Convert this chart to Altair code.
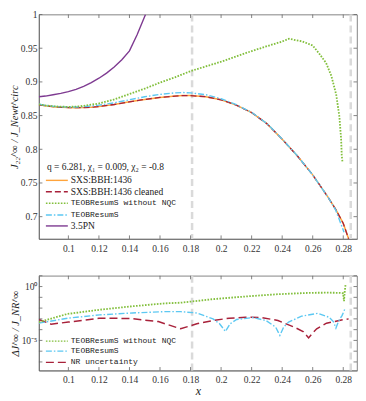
import altair as alt
import pandas as pd

# ---------------- data ----------------
# top panel: J22 / J_Newt^circ
x_sxs = [0.0807, 0.085, 0.09, 0.095, 0.10, 0.105, 0.11, 0.115, 0.12, 0.13, 0.14, 0.15, 0.16, 0.17,
         0.175, 0.18, 0.19, 0.20, 0.21, 0.22, 0.23, 0.24, 0.25, 0.26, 0.27, 0.275, 0.28, 0.2835]
y_sxs = [0.8660, 0.8645, 0.8632, 0.8624, 0.8619, 0.8617, 0.8619, 0.8625, 0.8635, 0.8665, 0.8705, 0.8740,
         0.8770, 0.8790, 0.8797, 0.8797, 0.8780, 0.8735, 0.8655, 0.8545, 0.8380, 0.8150, 0.7900, 0.7620,
         0.7290, 0.7110, 0.6900, 0.6672]
x_teob = [0.0807, 0.085, 0.09, 0.095, 0.10, 0.105, 0.11, 0.115, 0.12, 0.13, 0.14, 0.15, 0.16, 0.17,
          0.175, 0.18, 0.19, 0.20, 0.21, 0.22, 0.23, 0.24, 0.25, 0.26, 0.27, 0.275, 0.2805]
y_teob = [0.8670, 0.8652, 0.8638, 0.8630, 0.8627, 0.8628, 0.8633, 0.8642, 0.8655, 0.8690, 0.8735, 0.8780,
          0.8815, 0.8838, 0.8842, 0.8838, 0.8810, 0.8750, 0.8662, 0.8548, 0.8382, 0.8152, 0.7902, 0.7620,
          0.7290, 0.7100, 0.6770]
x_nonqc = [0.0807, 0.085, 0.09, 0.095, 0.10, 0.105, 0.11, 0.12, 0.13, 0.14, 0.15, 0.16, 0.17, 0.1744,
           0.18, 0.19, 0.20, 0.21, 0.22, 0.23, 0.24, 0.2445, 0.2533, 0.26, 0.2647, 0.2688, 0.2722, 0.2754,
           0.2775, 0.2786, 0.2790, 0.2795]
y_nonqc = [0.8665, 0.8650, 0.8638, 0.8632, 0.8630, 0.8633, 0.8645, 0.8680, 0.8740, 0.8820, 0.8900, 0.8990,
           0.9070, 0.9110, 0.9160, 0.9230, 0.9300, 0.9380, 0.9457, 0.9530, 0.9600, 0.9640, 0.9600, 0.9540,
           0.9407, 0.9280, 0.9090, 0.8810, 0.8480, 0.8150, 0.7910, 0.7810]
x_pn = [0.0807, 0.085, 0.09, 0.095, 0.10, 0.105, 0.11, 0.115, 0.12, 0.125, 0.13, 0.135, 0.14, 0.145, 0.1505]
y_pn = [0.8780, 0.8790, 0.8810, 0.8830, 0.8855, 0.8890, 0.8935, 0.8990, 0.9055, 0.9130, 0.9220, 0.9330,
        0.9460, 0.9700, 1.0000]

# bottom panel: log10 of relative difference
x_dnonqc = [0.0807, 0.0994, 0.1206, 0.1419, 0.1632, 0.1735, 0.1947, 0.216, 0.2372, 0.2584, 0.2700, 0.2776,
            0.2799, 0.2805, 0.2810, 0.2815]
l_dnonqc = [-3.30, -2.54, -2.15, -1.83, -1.56, -1.50, -1.17, -0.92, -0.71, -0.58, -0.57, -0.58,
            -0.62, -1.36, -0.40, 0.18]
x_dteob = [0.0807, 0.0994, 0.1206, 0.1419, 0.1632, 0.1735, 0.1841, 0.1947, 0.1990, 0.2028, 0.2060, 0.2102,
           0.2208, 0.2293, 0.2357, 0.2385, 0.2410, 0.2442, 0.2527, 0.2633, 0.2707, 0.2735, 0.2752, 0.2770,
           0.2792, 0.2813]
l_dteob = [-3.40, -2.94, -2.63, -2.45, -2.33, -2.33, -2.45, -3.00, -3.45, -4.16, -3.45, -3.06,
           -2.88, -3.15, -3.76, -4.53, -3.75, -3.30, -2.75, -2.48, -2.85, -3.25, -3.85, -3.20,
           -2.70, -2.00]
x_dnr = [0.0807, 0.0887, 0.1000, 0.1200, 0.1400, 0.1589, 0.1735, 0.1841, 0.1947, 0.2053, 0.2160, 0.2266,
         0.2372, 0.2478, 0.2540, 0.2573, 0.2600, 0.2626, 0.2690, 0.2796, 0.2835]
l_dnr = [-3.06, -3.49, -3.30, -2.94, -2.96, -3.25, -3.92, -3.46, -3.15, -2.94, -2.85, -2.88,
         -3.15, -3.76, -4.20, -4.77, -4.30, -3.92, -3.40, -3.09, -3.00]

v_lines = [0.181, 0.2849]
x_ticks = [0.10, 0.12, 0.14, 0.16, 0.18, 0.20, 0.22, 0.24, 0.26, 0.28]
y_ticks_top = [0.70, 0.75, 0.80, 0.85, 0.90, 0.95, 1.00]
y_ticks_bot = [1e-7, 1e-6, 1e-5, 1e-4, 1e-3, 1e-2, 1e-1, 1e0, 1e1]

legend_title = "q = 6.281, χ₁ = 0.009, χ₂ = -0.8"
top_labels = ["SXS:BBH:1436", "SXS:BBH:1436 cleaned", "TEOBResumS without NQC", "TEOBResumS", "3.5PN"]
bot_labels = ["TEOBResumS without NQC", "TEOBResumS", "NR uncertainty"]

# ---------------- styles ----------------
C_OR, C_RED, C_GRN, C_BLU, C_PUR = "#FFA43C", "#A8213A", "#82BF3C", "#5CC8F2", "#7E3A91"
D_RED, D_GRN, D_BLU = [6, 3], [1.6, 1.4], [6, 2, 1.5, 2]
SERIF, MONO = "Liberation Serif", "Liberation Mono"
W, H1, H2 = 319, 225, 95
XD = [0.0807, 0.289]
YD_TOP = [0.667, 1.0]
YD_BOT = [1.6e-8, 10]

x_axis_top = alt.Axis(values=x_ticks, format=".2~f", title=None, ticks=False, grid=False,
                      labelPadding=5)
x_axis_bot = alt.Axis(values=x_ticks, format=".2~f", title="x", ticks=False, grid=False,
                      labelPadding=4, titleFont=SERIF, titleFontStyle="italic", titleFontSize=12,
                      titleFontWeight="normal", titlePadding=2)
y_axis_top = alt.Axis(values=y_ticks_top, labelExpr="datum.value == 1 ? '1' : format(datum.value, '.2~f')",
                      title="J₂₂^∞ / J_Newt^circ", ticks=False, grid=False, labelPadding=2,
                      titlePadding=1, titleFontStyle="italic")
y_axis_bot = alt.Axis(values=[1e-5, 1.0],
                      labelExpr="datum.value > 0.5 ? '10⁰' : '10⁻⁵'",
                      title="ΔJ^∞ / J_NR^∞", ticks=False, grid=False, labelPadding=2, titlePadding=1,
                      titleFontStyle="italic")

xs_enc = lambda ax: alt.X("x:Q", scale=alt.Scale(domain=XD, nice=False, zero=False), axis=ax)


def line(xs, ys, color, dash=None, width=1.3, ylog=False, ax_x=None, ax_y=None):
    df = pd.DataFrame({"x": xs, "y": [10 ** v for v in ys] if ylog else ys})
    kw = dict(color=color, strokeWidth=width, clip=True)
    if dash:
        kw["strokeDash"] = dash
    sc = alt.Scale(type="log", domain=YD_BOT, nice=False) if ylog else alt.Scale(domain=YD_TOP, nice=False, zero=False)
    return alt.Chart(df).mark_line(**kw).encode(x=xs_enc(ax_x), y=alt.Y("y:Q", scale=sc, axis=ax_y))


def vlines(ax_x, h):
    return alt.Chart(pd.DataFrame({"x": v_lines})).mark_rule(
        color="#DADADA", strokeWidth=2.5, strokeDash=[7, 4]).encode(
        x=xs_enc(ax_x), y=alt.value(0), y2=alt.value(h))


def xticks(ax_x, h):
    d = pd.DataFrame({"x": x_ticks})
    a = alt.Chart(d).mark_rule(color="#666", strokeWidth=0.8).encode(x=xs_enc(ax_x), y=alt.value(0), y2=alt.value(3.5))
    b = alt.Chart(d).mark_rule(color="#666", strokeWidth=0.8).encode(x=xs_enc(ax_x), y=alt.value(h - 3.5), y2=alt.value(h))
    return [a, b]


def yticks(vals, sc, ax_y):
    d = pd.DataFrame({"y": vals})
    a = alt.Chart(d).mark_rule(color="#666", strokeWidth=0.8).encode(
        y=alt.Y("y:Q", scale=sc, axis=ax_y), x=alt.value(0), x2=alt.value(3.5))
    b = alt.Chart(d).mark_rule(color="#666", strokeWidth=0.8).encode(
        y=alt.Y("y:Q", scale=sc, axis=ax_y), x=alt.value(W - 3.5), x2=alt.value(W))
    return [a, b]


def legend_entry(label, color, dash, ypix, font, size):
    one = alt.Data(values=[{"a": 1}])
    kw = dict(color=color, strokeWidth=1.4)
    if dash:
        kw["strokeDash"] = dash
    r = alt.Chart(one).mark_rule(**kw).encode(x=alt.value(7), x2=alt.value(29), y=alt.value(ypix))
    t = alt.Chart(one).mark_text(text=label, font=font, fontSize=size, align="left", baseline="middle",
                                 color="#222").encode(x=alt.value(32), y=alt.value(ypix))
    return [r, t]


# ---------------- top panel ----------------
sc_top = alt.Scale(domain=YD_TOP, nice=False, zero=False)
top_layers = [vlines(x_axis_top, H1)]
top_layers += [
    line(x_sxs, y_sxs, C_OR, None, 1.5, ax_x=x_axis_top, ax_y=y_axis_top),
    line(x_sxs, y_sxs, C_RED, D_RED, 1.3, ax_x=x_axis_top, ax_y=y_axis_top),
    line(x_teob, y_teob, C_BLU, D_BLU, 1.4, ax_x=x_axis_top, ax_y=y_axis_top),
    line(x_nonqc, y_nonqc, C_GRN, D_GRN, 1.8, ax_x=x_axis_top, ax_y=y_axis_top),
    line(x_pn, y_pn, C_PUR, None, 1.4, ax_x=x_axis_top, ax_y=y_axis_top),
]
top_layers += xticks(x_axis_top, H1) + yticks(y_ticks_top, sc_top, y_axis_top)
one = alt.Data(values=[{"a": 1}])
top_layers.append(alt.Chart(one).mark_text(text=legend_title, font=SERIF, fontSize=9.5, align="left",
                                           baseline="middle", color="#222").encode(
    x=alt.value(8), y=alt.value(153)))
styles_top = [(C_OR, None, SERIF, 9.5), (C_RED, D_RED, SERIF, 9.5), (C_GRN, D_GRN, MONO, 8),
              (C_BLU, D_BLU, MONO, 8), (C_PUR, None, SERIF, 9.5)]
rows_top = [166.3, 177.7, 189.3, 201.0, 212.0]
for lab, (c, d, f, s), yp in zip(top_labels, styles_top, rows_top):
    top_layers += legend_entry(lab, c, d, yp, f, s)
top = alt.layer(*top_layers).properties(width=W, height=H1)

# ---------------- bottom panel ----------------
sc_bot = alt.Scale(type="log", domain=YD_BOT, nice=False)
bot_layers = [vlines(x_axis_bot, H2)]
bot_layers += [
    line(x_dnr, l_dnr, C_RED, [8, 4], 1.5, ylog=True, ax_x=x_axis_bot, ax_y=y_axis_bot),
    line(x_dteob, l_dteob, C_BLU, D_BLU, 1.4, ylog=True, ax_x=x_axis_bot, ax_y=y_axis_bot),
    line(x_dnonqc, l_dnonqc, C_GRN, D_GRN, 1.8, ylog=True, ax_x=x_axis_bot, ax_y=y_axis_bot),
]
bot_layers += xticks(x_axis_bot, H2) + yticks(y_ticks_bot, sc_bot, y_axis_bot)
styles_bot = [(C_GRN, D_GRN, MONO, 8), (C_BLU, D_BLU, MONO, 8), (C_RED, [8, 4], MONO, 8)]
rows_bot = [65.5, 75.5, 86.8]
for lab, (c, d, f, s), yp in zip(bot_labels, styles_bot, rows_bot):
    bot_layers += legend_entry(lab, c, d, yp, f, s)
bottom = alt.layer(*bot_layers).properties(width=W, height=H2)

chart = alt.vconcat(top, bottom, spacing=20).properties(
    padding={"left": 0, "top": 0, "right": 0, "bottom": 0}, background="white"
).configure_view(stroke="#666", strokeWidth=0.8).configure_axis(
    labelFont=SERIF, labelFontSize=9.5, labelColor="#333", domainColor="#666", domainWidth=0.8,
    titleFont=SERIF, titleFontSize=10.5, titleFontWeight="normal", titleColor="#222"
)

chart.save("out.html", embed_options={"renderer": "svg", "actions": False})
